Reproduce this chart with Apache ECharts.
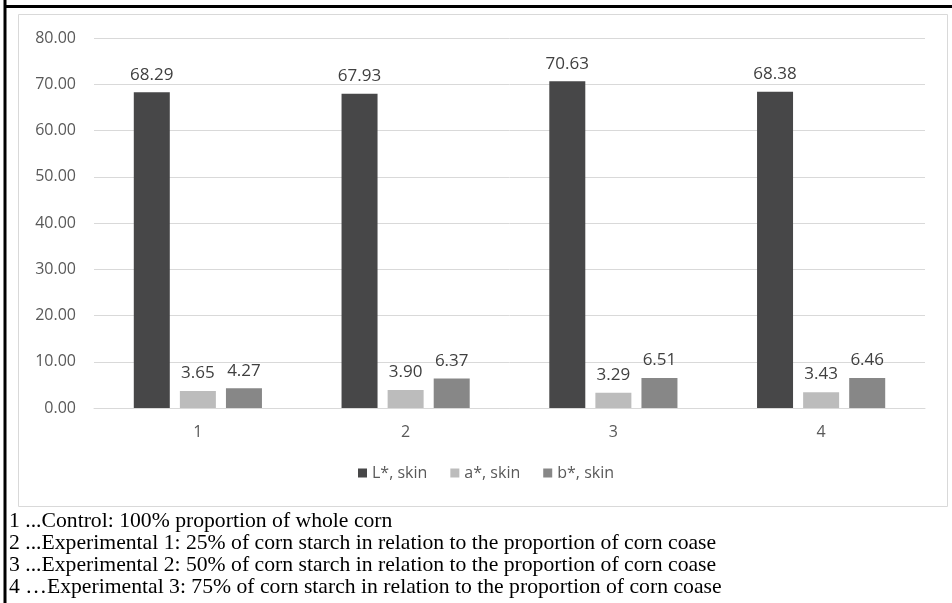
<!DOCTYPE html>
<html><head><meta charset="utf-8">
<script src="https://cdn.jsdelivr.net/npm/echarts@6/dist/echarts.min.js"></script>
<style>html,body{margin:0;padding:0;background:#fff}#c{width:952px;height:603px}</style>
</head><body><div id="c"></div>
<script>
const categories = ['1', '2', '3', '4'];
const seriesNames = ['L*, skin', 'a*, skin', 'b*, skin'];
const lValues = [68.29, 67.93, 70.63, 68.38];
const aValues = [3.65, 3.90, 3.29, 3.43];
const bValues = [4.27, 6.37, 6.51, 6.46];
const footnotes = [
  '1 ...Control: 100% proportion of whole corn',
  '2 ...Experimental 1: 25% of corn starch in relation to the proportion of corn coase',
  '3 ...Experimental 2: 50% of corn starch in relation to the proportion of corn coase',
  '4 \u2026Experimental 3: 75% of corn starch in relation to the proportion of corn coase'
];
const colors = ['#474748', '#bcbcbc', '#878787'];
const font = '"Open Sans", "Noto Sans", sans-serif';

const chart = echarts.init(document.getElementById('c'), null, {renderer: 'canvas'});
const mk = (name, data, i) => ({
  name, type: 'bar', data,
  barWidth: 36, barGap: '28%',
  itemStyle: {color: colors[i]},
  label: {show: true, position: 'top', distance: 9, formatter: p => p.value.toFixed(2),
          color: '#404040', fontSize: 17, fontFamily: font}
});
const graphics = [
  {type: 'rect', shape: {x: 18.5, y: 14.5, width: 929, height: 492}, style: {fill: 'none', stroke: '#d9d9d9', lineWidth: 1}, z: -1},
  {type: 'line', shape: {x1: 5, y1: 0, x2: 5, y2: 603}, style: {stroke: '#000', lineWidth: 3}},
  {type: 'line', shape: {x1: 5, y1: 6.5, x2: 952, y2: 6.5}, style: {stroke: '#000', lineWidth: 3}}
];
footnotes.forEach((t, i) => graphics.push({
  type: 'text', x: 9, y: 511 + i * 22, scaleX: 1.032,
  style: {text: t, fill: '#000', font: '21px "Liberation Serif", "Times New Roman", serif'}
}));
chart.setOption({
  animation: false,
  color: colors,
  grid: {left: 94, right: 27, top: 38, bottom: 195, containLabel: false},
  legend: {
    data: seriesNames, bottom: 117, left: 353, itemWidth: 9, itemHeight: 9, itemGap: 23,
    icon: 'rect', textStyle: {color: '#595959', fontSize: 16, fontFamily: font}
  },
  xAxis: {
    type: 'category', data: categories,
    axisLine: {lineStyle: {color: '#d9d9d9', width: 1}},
    axisTick: {show: false},
    axisLabel: {color: '#595959', fontSize: 16, fontFamily: font, margin: 16}
  },
  yAxis: {
    type: 'value', min: 0, max: 80, interval: 10,
    axisLine: {show: false}, axisTick: {show: false},
    splitLine: {lineStyle: {color: '#d9d9d9', width: 1}},
    axisLabel: {color: '#595959', fontSize: 16, fontFamily: font, margin: 18, formatter: v => v.toFixed(2)}
  },
  series: [mk(seriesNames[0], lValues, 0), mk(seriesNames[1], aValues, 1), mk(seriesNames[2], bValues, 2)],
  graphic: graphics
});
</script></body></html>
